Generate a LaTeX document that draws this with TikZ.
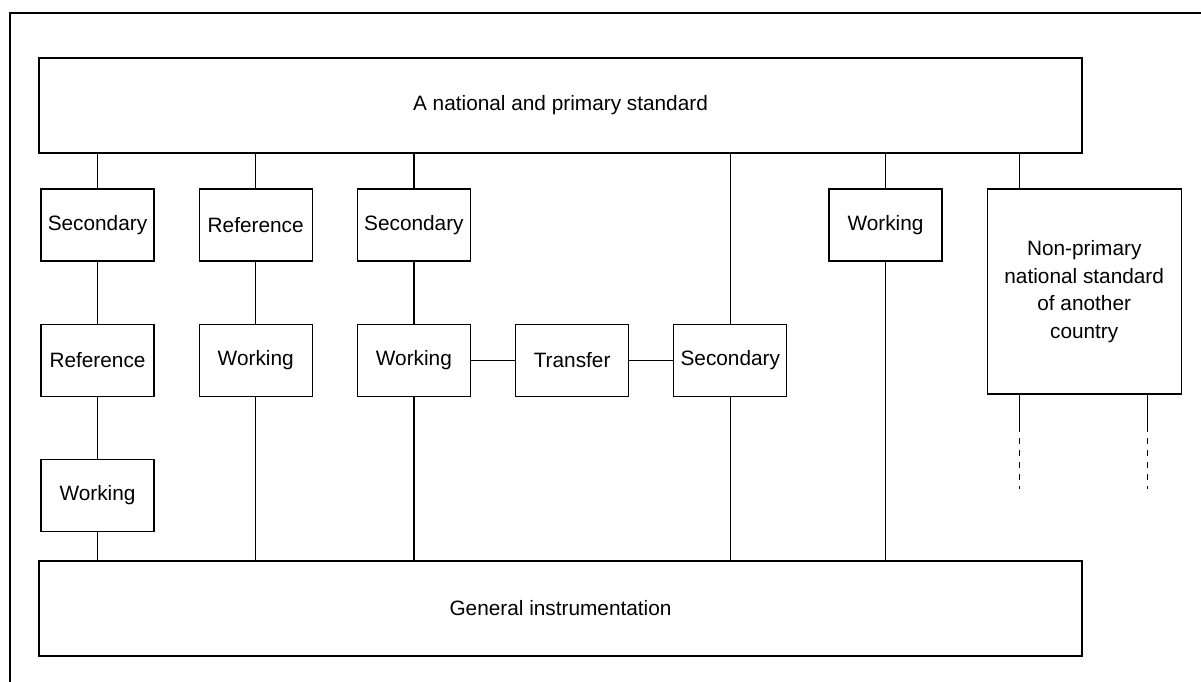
\documentclass[tikz,border=0pt]{standalone}
\usepackage{fontspec}
\setmainfont{Liberation Sans}
\usetikzlibrary{positioning}

\begin{document}
\begin{tikzpicture}[
    x=1pt, y=-1pt,
    node distance=62pt and 44pt,
    box/.style={rectangle, draw=black, line width=1.2pt, minimum width=113pt, minimum height=72pt, inner sep=1pt, align=center, font=\fontsize{20.8}{27.5}\selectfont},
    wide/.style={box, minimum width=1043pt, minimum height=95pt},
    link/.style={draw=black, line width=1.2pt},
    stub/.style={link, dash pattern=on 6pt off 6pt}
]
\useasboundingbox (0,0) rectangle (1201,682);
\draw[line width=1.2pt] (10,13) rectangle (1230,720);

\node[wide] (top) at (560.5,105.5) {A national and primary standard};
\node[box] (sec1) at (97.5,225) {Secondary};
\node[box, right=of sec1] (ref2) {Reference};
\node[box, right=of ref2] (sec3) {Secondary};
\node[box, below=of sec1] (ref1) {Reference};
\node[box, below=of ref1] (work1) {Working};
\node[box, below=of ref2] (work2) {Working};
\node[box, below=of sec3] (work3) {Working};
\node[box, right=of work3] (trans) {Transfer};
\node[box, right=of trans] (sec4) {Secondary};
\node[box] (work5) at (885.5,225) {Working};
\node[box, minimum width=194pt, minimum height=205pt, right=of work5.north east, anchor=north west] (nonprim) {Non-primary\\national standard\\of another\\country};
\node[wide] (bot) at (560.5,608.5) {General instrumentation};

\coordinate (leg1) at ([xshift=33pt]nonprim.south west);
\coordinate (leg2) at ([xshift=-34pt]nonprim.south east);
\coordinate (leg1a) at ([yshift=-31pt]leg1);
\coordinate (leg2a) at ([yshift=-31pt]leg2);
\coordinate (leg1b) at ([yshift=-94pt]leg1);
\coordinate (leg2b) at ([yshift=-94pt]leg2);

% first column
\draw[link] (sec1) -- (top.south -| sec1);
\draw[link] (sec1) -- (ref1);
\draw[link] (ref1) -- (work1);
\draw[link] (work1) -- (bot.north -| work1);
% second column
\draw[link] (ref2) -- (top.south -| ref2);
\draw[link] (ref2) -- (work2);
\draw[link] (work2) -- (bot.north -| work2);
% third column and transfer
\draw[link] (sec3) -- (top.south -| sec3);
\draw[link] (sec3) -- (work3);
\draw[link] (work3) -- (bot.north -| work3);
\draw[link] (work3) -- (trans);
\draw[link] (trans) -- (sec4);
\draw[link] (sec4) -- (top.south -| sec4);
\draw[link] (sec4) -- (bot.north -| sec4);
% working standard
\draw[link] (work5) -- (top.south -| work5);
\draw[link] (work5) -- (bot.north -| work5);
% other country
\draw[link] (nonprim.north -| leg1) -- (top.south -| leg1);
\draw[link] (leg1) -- (leg1a);
\draw[link] (leg2) -- (leg2a);
\draw[stub] (leg1a) -- (leg1b);
\draw[stub] (leg2a) -- (leg2b);
\end{tikzpicture}
\end{document}
